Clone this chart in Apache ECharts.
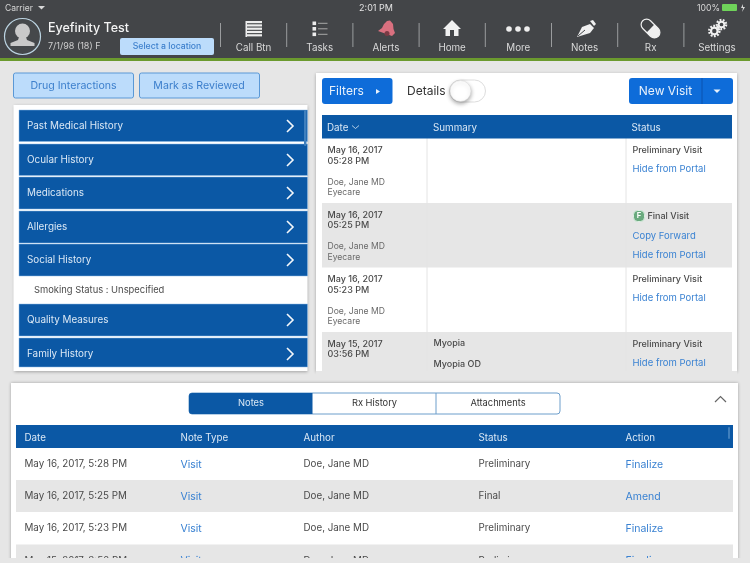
<!DOCTYPE html>
<html>
<head>
<meta charset="utf-8">
<title>Patient chart</title>
<style>
html, body { margin: 0; padding: 0; background: #e6e6e6; }
#main { width: 750px; height: 563px; }
</style>
<script src="https://cdn.jsdelivr.net/npm/echarts@6/dist/echarts.min.js"></script>
</head>
<body>
<div id="main"></div>
<script>
var navLabels = ['Call Btn', 'Tasks', 'Alerts', 'Home', 'More', 'Notes', 'Rx', 'Settings'];
var historyItems = ['Past Medical History', 'Ocular History', 'Medications', 'Allergies', 'Social History', 'Quality Measures', 'Family History'];
var visitDates = ['May 16, 2017', 'May 16, 2017', 'May 16, 2017', 'May 15, 2017'];
var visitTimes = ['05:28 PM', '05:25 PM', '05:23 PM', '03:56 PM'];
var visitStatus = ['Preliminary Visit', 'Final Visit', 'Preliminary Visit', 'Preliminary Visit'];
var noteDates = ['May 16, 2017, 5:28 PM', 'May 16, 2017, 5:25 PM', 'May 16, 2017, 5:23 PM', 'May 15, 2017, 3:56 PM'];
var noteStatus = ['Preliminary', 'Final', 'Preliminary', 'Preliminary'];
var noteActions = ['Finalize', 'Amend', 'Finalize', 'Finalize'];
var noteHeaders = ['Date', 'Note Type', 'Author', 'Status', 'Action'];
var noteTabs = ['Notes', 'Rx History', 'Attachments'];

var FONT = 'Inter, "Noto Sans", sans-serif';
var NAVY = '#0b58a5', BRIGHT = '#0e6cd9', LINK = '#3a82d2', PALE = '#bcdcfb', GREY = '#e6e6e6', INK = '#4a4a4a';
var els = [];

function rect(x, y, w, h, fill, extra) {
    var style = { fill: fill };
    extra = extra || {};
    for (var k in extra) { if (k !== 'r') style[k] = extra[k]; }
    els.push({ type: 'rect', silent: true, shape: { x: x, y: y, width: w, height: h, r: extra.r || 0 }, style: style });
}
function text(str, x, y, size, fill, weight, align) {
    els.push({ type: 'text', silent: true, style: {
        text: str, x: x, y: y + 0.6, fill: fill,
        font: (weight || 400) + ' ' + size + 'px ' + FONT,
        align: align || 'left', verticalAlign: 'middle'
    } });
}
function line(x1, y1, x2, y2, color, width) {
    els.push({ type: 'line', silent: true, shape: { x1: x1, y1: y1, x2: x2, y2: y2 }, style: { stroke: color, lineWidth: width || 1 } });
}
function poly(points, fill, stroke, width) {
    els.push({ type: stroke ? 'polyline' : 'polygon', silent: true, shape: { points: points }, style: stroke ? { stroke: stroke, lineWidth: width, fill: null } : { fill: fill } });
}
function circle(cx, cy, r, fill, stroke, width) {
    els.push({ type: 'circle', silent: true, shape: { cx: cx, cy: cy, r: r }, style: { fill: fill, stroke: stroke, lineWidth: width || 0 } });
}

// page + top bar
rect(0, 0, 750, 563, GREY);
rect(0, 0, 750, 58, '#434548');
rect(0, 58, 750, 3, '#6b9a2e');
text('Carrier', 5, 7.5, 8.5, '#d8d8d8');
text('2:01 PM', 376, 7.5, 9, '#e4e4e4', 400, 'center');
text('100%', 708.5, 7.5, 8.7, '#d8d8d8', 400, 'center');
rect(722, 4, 15, 7, '#6fd35a', { r: 1 });
poly([[45, 6], [41.5, 9.5], [38, 6]], '#d8d8d8');
poly([[743, 4], [741, 8], [743, 8], [742, 12], [745, 7], [743, 7]], '#d8d8d8');

// avatar
circle(22.5, 36.5, 18, '#45484b', '#bcd4e2', 1.2);
circle(22.5, 31, 7.5, '#c9c9c9');
poly([[19, 37], [26, 37], [27, 40], [34.5, 43], [34.5, 46], [10.5, 46], [10.5, 43], [18, 40]], '#c9c9c9');
text('Eyefinity Test', 48, 27.5, 12.5, '#f4f4f4', 500);
text('7/1/98 (18) F', 48, 46, 9, '#cfcfcf');
rect(120, 38, 94, 17, PALE, { r: 2 });
text('Select a location', 167, 46, 8.7, '#3c7fcc', 500, 'center');

var navStart = 253.5, navStep = 66.2;
navLabels.forEach(function (label, i) {
    var cx = navStart + i * navStep;
    text(label, cx, 47.5, 9.8, '#d9d9d9', 400, 'center');
    line(cx - 33, 23, cx - 33, 47, '#9a9c9e', 1);
});

// Call Btn icon
rect(245.5, 21, 1.5, 16, '#ededed');
for (var b = 0; b < 5; b++) rect(247, 21 + b * 3.3, 15, 2.2, '#ededed');
// Tasks icon
for (var t = 0; t < 3; t++) {
    rect(312.5, 21.5 + t * 5.5, 3.6, 3.6, '#ededed');
    line(318, 23.3 + t * 5.5, 327.5, 23.3 + t * 5.5, '#a8a8a8', 1);
}
// Alerts bell
poly([[390, 20.5], [393, 24], [393.5, 29], [395, 33], [392, 36], [378, 31], [382, 28], [384, 24], [387, 21]], '#d9707f');
circle(387, 33.5, 2.5, '#7a3a44');
// Home icon
poly([[452, 20], [461, 29], [458.5, 29], [458.5, 36], [454, 36], [454, 30], [450, 30], [450, 36], [445.5, 36], [445.5, 29], [443, 29]], '#f0f0f0');
// More icon
circle(509, 29, 2.8, '#eeeeee'); circle(518, 29, 2.8, '#eeeeee'); circle(527, 29, 2.8, '#eeeeee');
// Notes pen
poly([[590, 24], [594, 28], [590, 33], [577, 37], [582, 27]], '#f0f0f0');
poly([[590, 21], [593, 20], [596, 24], [594, 26]], '#f0f0f0');
line(578, 36, 585, 30, '#434548', 1);
// Rx pill
els.push({ type: 'rect', silent: true, rotation: -Math.PI / 4, originX: 650.5, originY: 28.5, shape: { x: 639.5, y: 23, width: 22, height: 11, r: 5.5 }, style: { fill: 'none', stroke: '#f0f0f0', lineWidth: 1.2 } });
els.push({ type: 'rect', silent: true, rotation: -Math.PI / 4, originX: 650.5, originY: 28.5, shape: { x: 650.5, y: 23, width: 11, height: 11, r: [0, 5.5, 5.5, 0] }, style: { fill: '#f0f0f0' } });
// Settings gears
[[714.3, 31, 3.3, 2.2], [721.5, 24.5, 2.8, 1.9]].forEach(function (g) {
    els.push({ type: 'circle', silent: true, shape: { cx: g[0], cy: g[1], r: g[2] + 1.8 }, style: { fill: 'none', stroke: '#f0f0f0', lineWidth: 2.4, lineDash: [1.8, 1.4] } });
    circle(g[0], g[1], g[2], 'none', '#f0f0f0', g[3]);
});

// left column
rect(13.5, 73, 120, 25, PALE, { r: 2, stroke: '#5a98d6', lineWidth: 1 });
text('Drug Interactions', 73.5, 85, 10.6, '#3c7fcc', 400, 'center');
rect(139.5, 73, 120, 25, PALE, { r: 2, stroke: '#5a98d6', lineWidth: 1 });
text('Mark as Reviewed', 199, 85, 10.6, '#3c7fcc', 400, 'center');

rect(13.5, 105, 294, 266, '#ffffff', { shadowBlur: 3, shadowColor: 'rgba(0,0,0,0.3)', shadowOffsetY: 1 });
var itemTops = [110, 144, 177, 211, 244, 304, 338];
var itemHeights = [31.5, 31.5, 32, 32, 32, 32, 29];
historyItems.forEach(function (name, i) {
    var top = itemTops[i], h = itemHeights[i];
    rect(19, top, 288.5, h, NAVY, { stroke: '#8fbbe4', lineWidth: 0.5 });
    text(name, 27, top + 15.5, 9.9, '#dbe8f5');
    poly([[287, top + 10], [293, top + 16], [287, top + 22]], null, '#f4f7fa', 1.6);
});
rect(304, 110, 2.5, 36, '#3f7fbd', { r: 1 });
text('Smoking Status : Unspecified', 34, 289.5, 9.4, INK);

// right panel: visits
rect(316, 73, 421, 298, '#ffffff', { shadowBlur: 3, shadowColor: 'rgba(0,0,0,0.3)', shadowOffsetY: 1 });
rect(322, 78, 70.5, 26, BRIGHT, { r: 3 });
text('Filters', 329, 91, 12, '#e8f1fb');
poly([[376, 89], [380, 91.5], [376, 94]], '#e8f1fb');
text('Details', 407, 90.5, 12, '#333333');
rect(449.5, 80, 36, 22, '#ffffff', { r: 11, stroke: '#dddddd', lineWidth: 1 });
els.push({ type: 'circle', silent: true, shape: { cx: 460.5, cy: 91, r: 10.5 }, style: { fill: '#ffffff', stroke: '#d5d5d5', lineWidth: 0.5, shadowBlur: 4, shadowColor: 'rgba(0,0,0,0.35)', shadowOffsetY: 2 } });
rect(629, 78, 104, 26, BRIGHT, { r: 3 });
line(702, 78, 702, 104, '#0a52b0', 1);
text('New Visit', 665.5, 91, 12, '#e8f1fb', 400, 'center');
poly([[713.5, 89.5], [720.5, 89.5], [717, 93]], '#e8f1fb');

var visitRowTops = [138.5, 203, 267.5, 332];
var visitRowHeight = 64.5;
visitDates.forEach(function (d, i) {
    var top = visitRowTops[i];
    if (i % 2 === 1) rect(322, top, 410, visitRowHeight, GREY);
});
line(427, 138, 427, 371, '#e4e4e4', 1);
line(626, 138, 626, 371, '#e4e4e4', 1);
rect(322, 115, 410, 23.5, NAVY);
text('Date', 327, 127, 9.8, '#dbe8f5');
poly([[352, 125.5], [355.5, 128.5], [359, 125.5]], null, '#dbe8f5', 0.8);
text('Summary', 433, 127, 9.8, '#dbe8f5');
text('Status', 631.5, 127, 9.8, '#dbe8f5');

visitDates.forEach(function (d, i) {
    var top = visitRowTops[i];
    text(d, 327.5, top + 11.5, 9, INK, 500);
    text(visitTimes[i], 327.5, top + 22, 9, INK, 500);
    if (i < 3) {
        text('Doe, Jane MD', 327.5, top + 43, 8.6, '#6a6a6a');
        text('Eyecare', 327.5, top + 53.5, 8.6, '#6a6a6a');
    }
    if (i === 1) {
        rect(633.5, top + 7.5, 11, 11, '#6aaa7e', { r: 4, stroke: '#dcefe2', lineWidth: 1 });
        text('F', 639, top + 12.5, 7.5, '#ffffff', 700, 'center');
        text(visitStatus[i], 647.5, top + 13, 9, INK, 500);
        text('Copy Forward', 632.5, top + 32.5, 9.5, LINK);
        text('Hide from Portal', 632.5, top + 51.5, 9.5, LINK);
    } else {
        text(visitStatus[i], 632.5, top + 11.5, 9, INK, 500);
        text('Hide from Portal', 632.5, top + 30.5, 9.5, LINK);
    }
});
text('Myopia', 433.5, 343, 9, INK, 500);
text('Myopia OD', 433.5, 364, 9, INK, 500);
// trim rows at the panel edge
rect(316, 371, 421, 12, GREY);

// bottom panel: notes
rect(11, 383, 727, 180, '#ffffff', { shadowBlur: 3, shadowColor: 'rgba(0,0,0,0.3)' });
var tabLefts = [189, 312.5, 436];
var tabWidth = 124;
rect(189, 393, 371, 21, '#ffffff', { r: 3, stroke: '#6d9ecb', lineWidth: 1 });
rect(189, 393, 123.5, 21, NAVY, { r: [3, 0, 0, 3] });
line(436, 393, 436, 414, '#6d9ecb', 1);
noteTabs.forEach(function (name, i) {
    text(name, tabLefts[i] + tabWidth / 2, 403, 9.3, i === 0 ? '#dbe8f5' : '#333333', 400, 'center');
});
poly([[715, 402], [720.5, 396.5], [726, 402]], null, '#666666', 1.2);

var noteColumns = [24.5, 180.5, 303.5, 478.5, 625.5];
rect(16, 425, 717, 23, NAVY);
noteHeaders.forEach(function (name, i) {
    text(name, noteColumns[i], 437, 9.8, '#dbe8f5');
});
rect(728, 427, 2, 12, '#3f7fbd', { r: 1 });
var noteRowTops = [448, 480, 512, 544.5];
noteDates.forEach(function (d, i) {
    var top = noteRowTops[i];
    if (i % 2 === 1) rect(16, top, 717, 32, GREY);
    text(d, noteColumns[0], top + 15.5, 9.8, INK);
    text('Visit', noteColumns[1], top + 16, 10.5, LINK);
    text('Doe, Jane MD', noteColumns[2], top + 15.5, 9.8, INK);
    text(noteStatus[i], noteColumns[3], top + 15.5, 9.8, INK);
    text(noteActions[i], noteColumns[4], top + 16, 10.5, LINK);
});
// trim the last row at the bottom of the screen
rect(0, 558, 750, 5, GREY);

var myChart = echarts.init(document.getElementById('main'), null, { renderer: 'canvas' });
myChart.setOption({
    animation: false,
    graphic: { elements: els }
});
</script>
</body>
</html>
